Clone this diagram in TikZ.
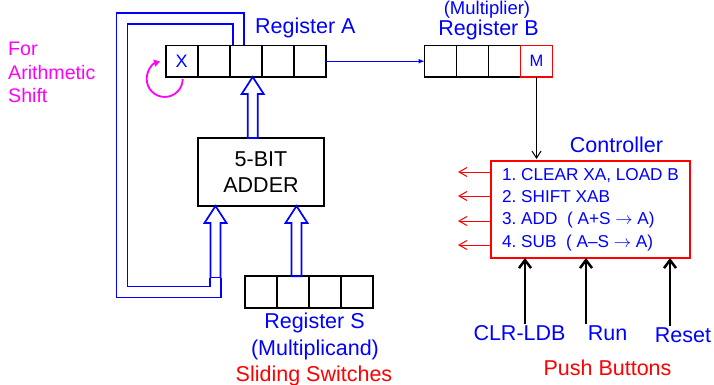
\documentclass[tikz,border=0pt]{standalone}
\usepackage{fontspec}
\setmainfont{Liberation Sans}
\usetikzlibrary{positioning,calc,arrows.meta}
\frenchspacing

\definecolor{busblue}{RGB}{0,0,255}
\definecolor{ctrlred}{RGB}{255,0,0}
\definecolor{shiftpink}{RGB}{255,0,255}

% hollow (block) arrow pointing up: #1 = foot, #2 = tip
\newcommand{\hollowarrow}[2]{%
  \draw[bus] ($(#1)+(-5,0)$) -- ($(#2)+(-5,17)$) -- ($(#2)+(-11,17)$) -- (#2)
    -- ($(#2)+(11,17)$) -- ($(#2)+(5,17)$) -- ($(#1)+(5,0)$) -- cycle;}

\begin{document}
\begin{tikzpicture}[x=1pt, y=-1pt,
    cell/.style={draw=black, line width=1.6pt, minimum width=32pt, minimum height=31.5pt,
                 inner sep=0pt, outer sep=0pt, text=busblue, font=\fontsize{18}{20}\selectfont},
    box/.style={line width=1.7pt, outer sep=0pt},
    lbl/.style={font=\fontsize{21.5}{26}\selectfont, text=busblue, inner sep=1pt, anchor=base},
    bus/.style={draw=busblue, line width=1.7pt},
    busline/.style={draw=busblue, line width=1.7pt, double=white, double distance=9.3pt},
    thinbus/.style={draw=busblue, line width=1pt, -{Latex[length=6pt,width=5pt]}},
    outsig/.style={draw=ctrlred, line width=1pt, -{Straight Barb[length=8pt,width=9pt]}},
    push/.style={draw=black, line width=2.5pt, -{Straight Barb[length=8pt,width=12pt]}},
    shiftarc/.style={draw=shiftpink, line width=1.8pt, -{Triangle[length=6pt,width=7pt]}}
]
\useasboundingbox (0,0) rectangle (714,385);

% Register A
\node[cell] (A1) at (181.7,61.2) {X};
\foreach \i [evaluate=\i as \j using int(\i+1)] in {1,...,4}
    \node[cell, right=0pt of A\i] (A\j) {};
\node[lbl, anchor=base west] (labA) at (254,34) {Register A};

% Register B
\node[cell] (B1) at (440.5,61.2) {};
\foreach \i [evaluate=\i as \j using int(\i+1)] in {1,2}
    \node[cell, right=0pt of B\i] (B\j) {};
\node[cell, draw=ctrlred, right=0pt of B3, font=\fontsize{16.5}{18}\selectfont] (B4) {M};
\node[lbl] (labB) at (488.5,36) {Register B};
\node[lbl, font=\fontsize{18.5}{22}\selectfont] (mult) at (487,15) {(Multiplier)};

% Register S
\node[cell] (S1) at (261,292) {};
\foreach \i [evaluate=\i as \j using int(\i+1)] in {1,...,3}
    \node[cell, right=0pt of S\i] (S\j) {};
\node[lbl] (labS) at (314.5,328) {Register S};
\node[lbl] (mcand) at (315,355) {(Multiplicand)};
\node[lbl, text=ctrlred] (slide) at (314,381) {Sliding Switches};

% Adder
\node[box, draw=black, minimum width=126pt, minimum height=68pt, align=center,
      font=\fontsize{21.5}{26}\selectfont] (adder) at (261,172) {5-BIT\\ADDER};

% Controller
\node[lbl] (labC) at (616.5,152) {Controller};
\node[box, draw=ctrlred, line width=1.8pt, minimum width=199pt, minimum height=97pt,
      align=left, text=busblue,
      font=\fontsize{17.2}{22.3}\selectfont] (ctrl) at (590.5,209.5)
      {1. CLEAR XA, LOAD B\\2. SHIFT XAB\\3. ADD~~( A+S $\rightarrow$ A)\\4. SUB~~( A--S $\rightarrow$ A)};

% Push buttons
\node[lbl] (clr) at (519.5,340) {CLR-LDB};
\node[lbl] (run) at (607.5,340) {Run};
\node[lbl] (rst) at (683,342) {Reset};
\node[lbl, text=ctrlred] (pushb) at (607.5,375) {Push Buttons};

% Arithmetic shift note
\node[anchor=north west, inner sep=0pt, align=left, text=shiftpink,
      font=\fontsize{19.6}{23.5}\selectfont] (note) at (8,42) {For\\Arithmetic\\Shift};

% Buses
\coordinate (tipA) at ($(A3.south)+(7,0)$);
\coordinate (footA) at (tipA |- adder.north);
\hollowarrow{footA}{tipA}

\coordinate (footS) at ($(S2.north)+(3.5,0)$);
\coordinate (tipS) at (footS |- adder.south);
\hollowarrow{footS}{tipS}

\coordinate (tipL) at ($(adder.south)+(-45.5,0)$);
\coordinate (footL) at ($(tipL)+(0,72)$);
\hollowarrow{footL}{tipL}
\draw[busline] ($(A3.north)+(-7,-0.8)$) |- (122,18.5) |- (215.5,292) -- (footL);

% Signals
\draw[thinbus] (A5) -- (B1);
\draw[draw=black, line width=1pt, -{Straight Barb[length=7pt,width=9pt]}, shorten >=2pt]
    (B4.south) -- (B4.south |- ctrl.north);
\foreach \dy in {-37.5,-13.5,11.5,35.5}
    \draw[outsig] ($(ctrl.west)+(0,\dy)$) -- ++(-33,0);

\coordinate (pc) at ($(clr.north)+(5.5,0)$);
\coordinate (pr) at ($(run.north)+(-21.5,0)$);
\coordinate (ps) at ($(rst.north)+(-13,0)$);
\foreach \p in {pc,pr,ps}
    \draw[push] (\p) -- (\p |- ctrl.south);

% Shift loop on X
\draw[shiftarc] ($(A1.south)+(1,2)$) arc[start angle=0, end angle=255, radius=18];

\end{tikzpicture}
\end{document}
